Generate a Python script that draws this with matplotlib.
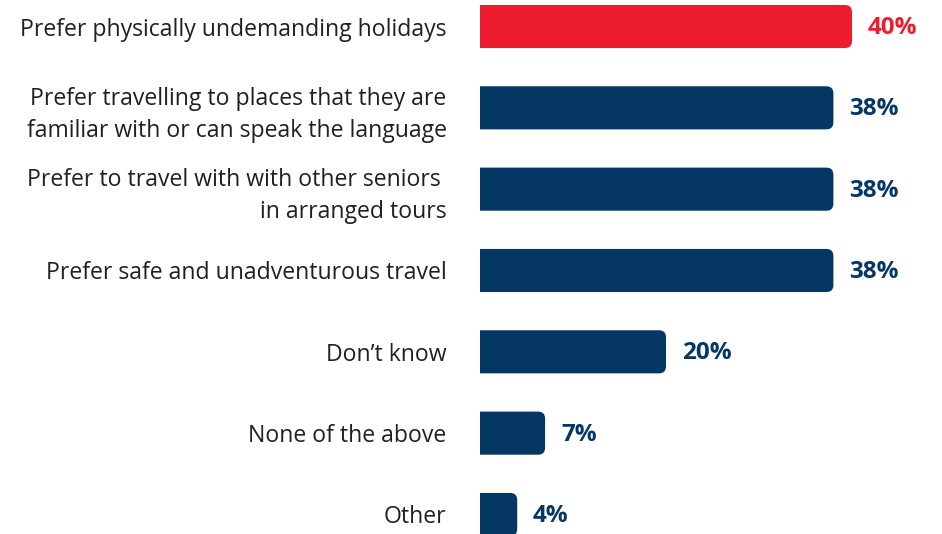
import matplotlib.pyplot as plt
from matplotlib.patches import FancyBboxPatch

categories = [
    "Prefer physically undemanding holidays",
    "Prefer travelling to places that they are\nfamiliar with or can speak the language",
    "Prefer to travel with with other seniors \nin arranged tours",
    "Prefer safe and unadventurous travel",
    "Don\u2019t know",
    "None of the above",
    "Other",
]
values = [40, 38, 38, 38, 20, 7, 4]
colors = ["#ED1C2E"] + ["#053764"] * 6

plt.rcParams["font.family"] = ["Open Sans", "DejaVu Sans"]

fig = plt.figure(figsize=(9.42, 5.34), dpi=100)
ax = fig.add_axes([480 / 942, 0, 462 / 942, 1])

ypos = list(range(len(values)))
bars = ax.barh(ypos, values, height=0.53, color=colors)

ax.set_xlim(0, 462 / 9.3)
ax.set_ylim((534 - 26.5) / 81.33, -26.5 / 81.33)

# swap each bar for one with rounded right corners
rx = 7 / 9.3
ry = 7 / 81.33
for rect, c in zip(bars, colors):
    rect.set_visible(False)
    x, y = rect.get_x(), rect.get_y()
    w, h = rect.get_width(), rect.get_height()
    p = FancyBboxPatch((x - 2, y), w + 2, h,
                       boxstyle=f"round,pad=0,rounding_size={rx}",
                       mutation_aspect=ry / rx,
                       facecolor=c, edgecolor="none")
    ax.add_patch(p)

for y, v, c in zip(ypos, values, colors):
    ax.text(v + 1.7, y + 0.02, f"{v}%", va="center", ha="left",
            fontsize=17.5, fontweight="bold", color=c)

ax.set_yticks(ypos)
ax.set_yticklabels(categories, fontsize=16.6, color="#231F20",
                   linespacing=1.45)
ax.tick_params(axis="y", length=0, pad=24)
ax.set_xticks([])
for s in ax.spines.values():
    s.set_visible(False)

fig.savefig("out.png", dpi=100)
